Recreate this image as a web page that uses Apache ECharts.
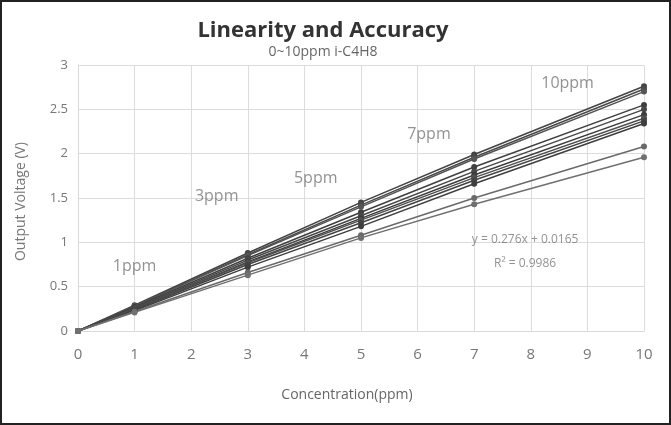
<!DOCTYPE html>
<html><head><meta charset="utf-8">
<script src="https://cdn.jsdelivr.net/npm/echarts@6/dist/echarts.min.js"></script>
<style>
html,body{margin:0;padding:0;background:#fff;}
#c{width:671px;height:425px;box-sizing:border-box;border:2px solid #222;}
</style></head>
<body><div id="c"></div>
<script>
const concentrations = [0, 1, 3, 5, 7, 10];
const s1  = [0, 0.29, 0.88, 1.45, 1.99, 2.76];
const s2  = [0, 0.28, 0.86, 1.42, 1.96, 2.73];
const s3  = [0, 0.28, 0.85, 1.40, 1.94, 2.70];
const s4  = [0, 0.27, 0.82, 1.34, 1.85, 2.55];
const s5  = [0, 0.26, 0.80, 1.30, 1.80, 2.50];
const s6  = [0, 0.25, 0.78, 1.27, 1.76, 2.44];
const s7  = [0, 0.25, 0.77, 1.25, 1.73, 2.40];
const s8  = [0, 0.24, 0.75, 1.22, 1.70, 2.37];
const s9  = [0, 0.23, 0.72, 1.18, 1.66, 2.34];
const s10 = [0, 0.22, 0.66, 1.08, 1.50, 2.08];
const s11 = [0, 0.21, 0.63, 1.05, 1.43, 1.96];
const allSeries = [s1, s2, s3, s4, s5, s6, s7, s8, s9, s10, s11];
const seriesColors = ['#444','#4a4a4a','#555','#404040','#484848','#3c3c3c','#505050','#444','#3f3f3f','#6a6a6a','#707070'];

const ppmLabels = ['1ppm', '3ppm', '5ppm', '7ppm', '10ppm'];
const ppmLabelX = [1.0, 2.45, 4.2, 6.2, 8.65];
const ppmLabelY = [0.73, 1.52, 1.72, 2.22, 2.79];
const fitText = ['y = 0.276x + 0.0165', 'R² = 0.9986'];
const fitX = [8.1, 8.1];
const fitY = [1.03, 0.76];

const chart = echarts.init(document.getElementById('c'), null, {renderer: 'canvas'});
const font = '"Open Sans", "Liberation Sans", sans-serif';

const lineSeries = allSeries.map((vals, i) => ({
  type: 'line',
  data: concentrations.map((x, j) => [x, vals[j]]),
  symbol: 'circle',
  symbolSize: 6,
  lineStyle: {width: 1.5, color: seriesColors[i]},
  itemStyle: {color: seriesColors[i]},
  z: 3
}));

option = {
  animation: false,
  title: [{
    text: 'Linearity and Accuracy',
    left: 316, top: 13, textAlign: 'center',
    textStyle: {fontFamily: font, fontSize: 22, fontWeight: 'bold', color: '#333'}
  }, {
    text: '0~10ppm i-C4H8',
    left: 316, top: 38, textAlign: 'center',
    textStyle: {fontFamily: font, fontSize: 14, fontWeight: 'normal', color: '#666'}
  }],
  graphic: [{
    type: 'text', left: 12, top: 140,
    style: {text: 'Output Voltage (V)', fontFamily: font, fontSize: 14, fill: '#777'},
    rotation: Math.PI / 2, originX: 0, originY: 0
  }],
  grid: {left: 76, right: 25, top: 63, bottom: 92},
  xAxis: {
    type: 'value', min: 0, max: 10, interval: 1,
    name: 'Concentration(ppm)', nameLocation: 'middle', nameGap: 57,
    nameTextStyle: {fontFamily: font, fontSize: 14, color: '#666', padding: [0, 28, 0, 0]},
    axisLine: {show: true, lineStyle: {color: '#d9d9d9'}},
    axisTick: {show: false},
    axisLabel: {fontFamily: font, fontSize: 15, color: '#777', margin: 16},
    splitLine: {show: true, lineStyle: {color: '#dcdcdc'}}
  },
  yAxis: {
    type: 'value', min: 0, max: 3, interval: 0.5,
    axisLine: {show: true, lineStyle: {color: '#d9d9d9'}},
    axisTick: {show: false},
    axisLabel: {fontFamily: font, fontSize: 13, color: '#777', margin: 10},
    splitLine: {show: true, lineStyle: {color: '#dcdcdc'}}
  },
  series: lineSeries.concat([{
    type: 'scatter',
    symbolSize: 0,
    z: 5,
    data: ppmLabels.map((t, i) => ({value: [ppmLabelX[i], ppmLabelY[i]], name: t})),
    label: {show: true, position: 'inside', formatter: '{b}',
      fontFamily: font, fontSize: 16, color: '#777'}
  }, {
    type: 'scatter',
    symbolSize: 0,
    z: 5,
    data: fitText.map((t, i) => ({value: [fitX[i] - 0.2, fitY[i]], name: t})),
    label: {show: true, position: 'inside', formatter: '{b}',
      fontFamily: font, fontSize: 12, color: '#777'}
  }])
};
chart.setOption(option);
</script></body></html>
